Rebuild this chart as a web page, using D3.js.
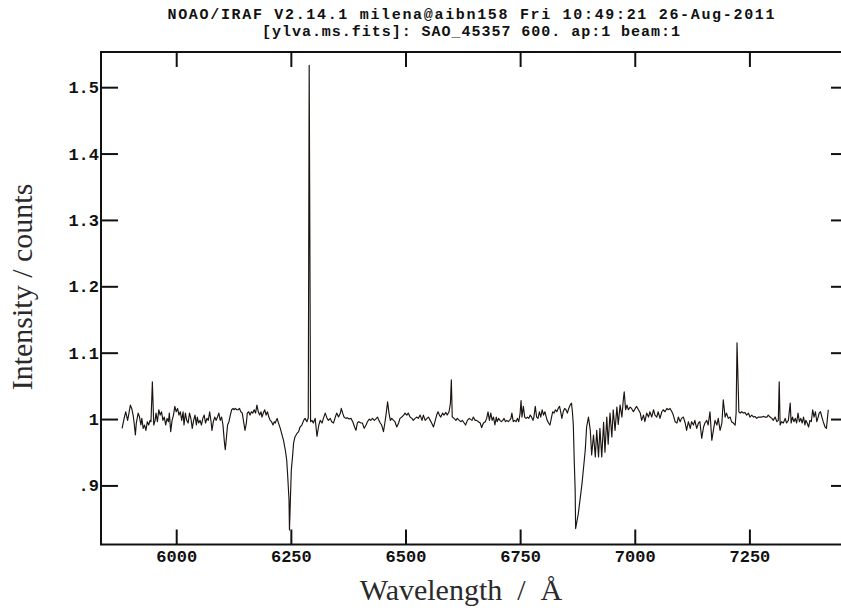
<!DOCTYPE html>
<html>
<head>
<meta charset="utf-8">
<script src="https://cdn.jsdelivr.net/npm/d3@7"></script>
<style>
  body { margin: 0; background: #fff; }
  svg { display: block; }
</style>
</head>
<body>
<svg id="chart" width="841" height="610"></svg>
<script>
// Spectrum samples: wavelength (Å) and normalised intensity
const wavelength = [
  5882,5887,5890,5894,5897,5900,5903,5906,5908,5911,5913,5917,5920,5923,5925,5928,5931,5934,5937,5940,
  5943,5945,5948,5951,5954,5956,5959,5962,5965,5968,5971,5974,5977,5980,5983,5985,5988,5991,5994,5997,
  6000,6003,6006,6009,6012,6015,6017,6020,6023,6026,6029,6032,6035,6038,6041,6044,6046,6049,6052,6055,
  6058,6061,6064,6067,6070,6073,6076,6078,6081,6084,6087,6090,6093,6096,6099,6102,6105,6107,6109,6112,
  6115,6118,6121,6124,6126,6129,6132,6135,6138,6141,6144,6147,6150,6153,6155,6158,6161,6164,6167,6170,
  6173,6176,6179,6182,6185,6187,6190,6193,6196,6199,6202,6205,6208,6211,6214,6216,6220,6223,6227,6230,
  6234,6238,6241,6243,6246,6247,6249,6251,6254,6256,6259,6263,6267,6270,6274,6278,6281,6285,6288,6290,
  6293,6296,6299,6303,6307,6311,6314,6318,6321,6325,6329,6332,6336,6339,6343,6347,6350,6354,6358,
  6360,6363,6366,6370,6373,6377,6381,6385,6389,6392,6395,6398,6403,6406,6410,6414,6417,6421,6424,6428,
  6432,6435,6439,6442,6445,6448,6452,6455,6458,6461,6464,6467,6470,6474,6477,6481,6485,6488,6492,6496,
  6499,6503,6506,6510,6514,6517,6521,6525,6528,6532,6536,6539,6543,6547,6550,6554,6557,6561,6565,6568,
  6571,6574,6577,6581,6584,6588,6591,6595,6598,6600,6602,6606,6610,6613,6617,6621,6624,6628,6631,6635,
  6639,6645,6648,6652,6655,6659,6663,6666,6670,6674,6677,6680,6683,6686,6689,6692,6695,6698,6700,6703,
  6706,6709,6712,6715,6718,6721,6724,6727,6730,6732,6735,6738,6741,6744,6747,6750,6752,6754,6757,6760,
  6763,6766,6769,6772,6775,6778,6780,6783,6786,6789,6792,6795,6798,6801,6804,6807,6809,6812,6815,6818,
  6821,6824,6827,6830,6833,6836,6839,6841,6844,6847,6850,6853,6856,6859,6862,6864,6866,6868,6870,6871,
  6877,6885,6892,6895,6899,6903,6906,6910,6914,6917,6921,6924,6928,6932,6935,6939,6942,6946,6950,6953,
  6957,6961,6964,6968,6972,6975,6977,6980,6983,6986,6990,6993,6997,7001,7004,7008,7012,7015,7019,7022,
  7026,7030,7033,7037,7041,7044,7048,7051,7055,7059,7062,7066,7070,7073,7077,7081,7084,7088,7092,7095,
  7099,7102,7106,7110,7113,7117,7121,7124,7128,7131,7135,7139,7142,7146,7150,7153,7157,7160,7164,7168,
  7171,7175,7179,7182,7186,7190,7193,7197,7200,7204,7208,7211,7215,7219,7221,7223,7227,7230,7233,7237,
  7240,7244,7248,7251,7255,7259,7262,7266,7269,7273,7277,7280,7284,7288,7291,7295,7299,7302,7306,7310,
  7313,7315,7317,7320,7324,7328,7331,7335,7339,7341,7344,7347,7350,7353,7356,7359,7362,7365,7368,7371,
  7373,7376,7379,7382,7385,7388,7391,7394,7397,7400,7402,7405,7408,7411,7415,7418,7422
];
const intensity = [
  0.986,1.003,1.011,0.998,1.009,1.021,1.016,1.006,0.996,0.976,0.994,1.009,1.003,0.991,1.001,0.986,0.991,0.983,0.996,0.991,
  0.998,0.996,1.056,0.991,0.998,1.009,0.996,1.014,1.006,1.011,0.998,1.003,0.991,1.001,0.996,1.009,0.981,0.998,1.006,1.019,
  1.011,1.016,1.006,1.011,0.998,1.011,0.991,1.009,0.998,0.994,1.009,1.001,0.986,0.998,1.006,0.991,1.003,0.994,0.998,0.991,
  1.001,1.006,0.994,1.001,0.998,1.011,0.996,0.983,0.996,1.003,0.998,1.003,1.009,0.998,1.003,0.991,0.966,0.954,0.968,0.991,
  0.996,1.006,1.014,1.016,1.014,1.016,1.014,1.014,1.016,1.011,1.009,0.996,0.983,0.994,1.009,1.011,1.006,1.011,1.009,1.014,
  1.009,1.021,1.011,1.006,1.011,1.003,1.009,1.014,1.006,1.011,1.003,0.998,0.996,0.991,0.996,0.994,1.001,0.994,0.986,0.978,
  0.968,0.953,0.938,0.916,0.878,0.833,0.878,0.923,0.946,0.964,0.973,0.978,0.981,0.988,0.991,0.998,1.001,0.996,1.002,1.533,
  0.996,0.998,0.994,1.001,0.974,0.991,0.998,0.994,1.001,1.009,1.001,0.998,1.001,0.996,0.994,1.003,1.009,1.003,1.009,
  1.016,1.009,1.003,1.001,1.002,1.000,1.001,0.996,0.988,0.983,0.994,0.996,0.994,0.994,0.986,0.991,0.996,1.000,0.998,1.001,
  0.998,1.000,1.003,0.998,0.994,0.991,0.981,0.994,1.009,1.026,1.009,0.998,1.001,0.998,0.996,0.988,0.994,1.001,1.003,1.006,
  1.009,1.006,1.009,1.003,1.001,0.998,1.001,1.003,1.001,1.006,0.998,1.006,0.998,1.001,1.003,0.998,0.994,0.988,0.998,1.006,
  1.011,1.006,1.003,1.009,1.006,1.010,1.006,1.011,1.024,1.059,1.003,1.001,0.998,1.001,0.998,0.996,0.998,0.994,0.991,0.998,
  1.001,0.998,1.003,0.998,0.998,0.996,0.994,0.987,0.994,0.996,1.001,1.011,0.998,1.009,0.998,1.003,0.991,1.003,0.996,1.001,
  0.998,0.996,0.998,1.001,0.996,0.998,0.996,0.998,1.001,1.009,0.996,0.998,0.996,1.001,0.996,1.009,1.028,1.003,1.019,1.003,
  1.001,1.003,1.001,1.006,1.003,0.998,1.003,1.019,1.003,1.001,1.011,1.003,1.014,1.006,1.011,1.003,0.998,0.994,0.991,1.001,
  1.011,1.009,1.014,1.011,1.016,1.019,1.009,1.001,1.011,1.016,1.014,1.009,1.016,1.021,1.024,1.011,0.991,0.938,0.893,0.835,
  0.858,0.903,0.953,0.988,1.003,0.983,0.946,0.976,0.943,0.983,0.943,0.986,0.943,0.995,0.950,1.003,0.962,1.009,0.973,1.014,
  0.983,1.018,0.992,1.021,1.003,1.029,1.041,1.014,1.021,1.014,1.018,1.016,1.011,1.016,1.019,1.014,1.009,0.998,1.006,0.996,
  1.009,1.003,1.011,1.003,1.014,1.006,1.003,1.011,1.001,1.011,1.014,1.011,1.016,1.014,1.016,1.011,1.006,0.996,0.994,1.003,
  0.996,1.001,1.003,0.994,0.983,0.996,0.986,0.996,0.991,0.998,0.986,0.994,0.996,0.971,0.988,0.994,0.998,0.991,1.011,0.968,
  0.981,0.998,0.991,1.001,0.983,0.994,1.029,1.003,1.009,1.001,1.003,0.996,0.994,0.991,1.009,1.115,1.011,1.009,1.011,1.009,
  1.010,1.006,1.009,1.003,1.006,1.003,1.004,1.001,1.003,1.003,1.003,1.004,1.003,1.003,1.006,1.003,1.001,0.998,1.003,0.996,
  0.998,1.056,0.991,0.996,0.994,1.001,0.994,0.998,1.024,0.994,1.003,0.996,1.001,0.994,1.009,0.996,1.001,0.994,1.003,0.991,
  0.998,0.994,0.988,0.998,0.996,1.014,1.003,1.011,0.996,1.003,1.009,1.011,1.003,0.996,0.988,0.986,1.014
];

// Axis ticks and labels
const xTicks = [6000, 6250, 6500, 6750, 7000, 7250];
const yTicks = [0.9, 1.0, 1.1, 1.2, 1.3, 1.4, 1.5];
const yTickLabels = [".9", "1", "1.1", "1.2", "1.3", "1.4", "1.5"];
const xDomain = [5836, 7465];
const yDomain = [0.811, 1.553];

const titleLines = [
  "NOAO/IRAF V2.14.1 milena@aibn158 Fri 10:49:21 26-Aug-2011",
  "[ylva.ms.fits]: SAO_45357 600. ap:1 beam:1"
];
const xLabel = "Wavelength  /  Å";
const yLabel = "Intensity / counts";

// Frame geometry
const frame = { left: 101, right: 848, top: 52, bottom: 544.5 };

const svg = d3.select("#chart");
const x = d3.scaleLinear().domain(xDomain).range([frame.left, frame.right]);
const y = d3.scaleLinear().domain(yDomain).range([frame.bottom, frame.top]);

const monoFont = "'Liberation Mono', 'Courier New', monospace";
const serifFont = "'Liberation Serif', 'Times New Roman', serif";

// Spectrum trace
const points = wavelength.map((w, i) => [w, intensity[i]]);
svg.append("path")
  .datum(points)
  .attr("fill", "none")
  .attr("stroke", "#1b1410")
  .attr("stroke-width", 1.15)
  .attr("stroke-linejoin", "round")
  .attr("d", d3.line().x(d => x(d[0])).y(d => y(d[1])));

function styleAxis(g, withLabels) {
  g.select(".domain").remove();
  g.selectAll(".tick line").attr("stroke", "#111").attr("stroke-width", 2);
  g.selectAll(".tick text")
    .attr("fill", "#111")
    .style("font-family", monoFont)
    .style("font-weight", "bold")
    .style("font-size", "17px");
  if (!withLabels) g.selectAll(".tick text").remove();
}

// Bottom axis with inward ticks
svg.append("g")
  .attr("transform", `translate(0,${frame.bottom})`)
  .call(d3.axisBottom(x).tickValues(xTicks).tickSize(-15).tickPadding(5).tickFormat(d3.format("d")))
  .call(g => styleAxis(g, true));

// Top axis ticks
svg.append("g")
  .attr("transform", `translate(0,${frame.top})`)
  .call(d3.axisTop(x).tickValues(xTicks).tickSize(-15))
  .call(g => styleAxis(g, false));

// Left axis with inward ticks
svg.append("g")
  .attr("transform", `translate(${frame.left},0)`)
  .call(d3.axisLeft(y).tickValues(yTicks).tickSize(-17).tickPadding(2)
    .tickFormat((d, i) => yTickLabels[i]))
  .call(g => styleAxis(g, true));

// Right axis ticks
svg.append("g")
  .attr("transform", `translate(${frame.right},0)`)
  .call(d3.axisRight(y).tickValues(yTicks).tickSize(-17))
  .call(g => styleAxis(g, false));

// Plot frame
svg.append("rect")
  .attr("x", frame.left).attr("y", frame.top)
  .attr("width", frame.right - frame.left)
  .attr("height", frame.bottom - frame.top)
  .attr("fill", "none")
  .attr("stroke", "#111")
  .attr("stroke-width", 2);

// Header lines
const titleWidths = [607, 418];
const titleBase = [19, 36];
titleLines.forEach((t, i) => {
  svg.append("text")
    .attr("x", 471).attr("y", titleBase[i])
    .attr("text-anchor", "middle")
    .attr("textLength", titleWidths[i])
    .attr("lengthAdjust", "spacing")
    .attr("fill", "#111")
    .style("font-family", monoFont)
    .style("font-weight", "bold")
    .style("font-size", "15px")
    .text(t);
});

// Axis titles
svg.append("text")
  .attr("x", 461).attr("y", 600)
  .attr("text-anchor", "middle")
  .attr("fill", "#2a2a2a")
  .style("font-family", serifFont)
  .style("font-size", "30px")
  .style("white-space", "pre")
  .attr("xml:space", "preserve")
  .text(xLabel);

svg.append("text")
  .attr("transform", "translate(32,287) rotate(-90)")
  .attr("text-anchor", "middle")
  .attr("fill", "#2a2a2a")
  .style("font-family", serifFont)
  .style("font-size", "30px")
  .text(yLabel);
</script>
</body>
</html>
